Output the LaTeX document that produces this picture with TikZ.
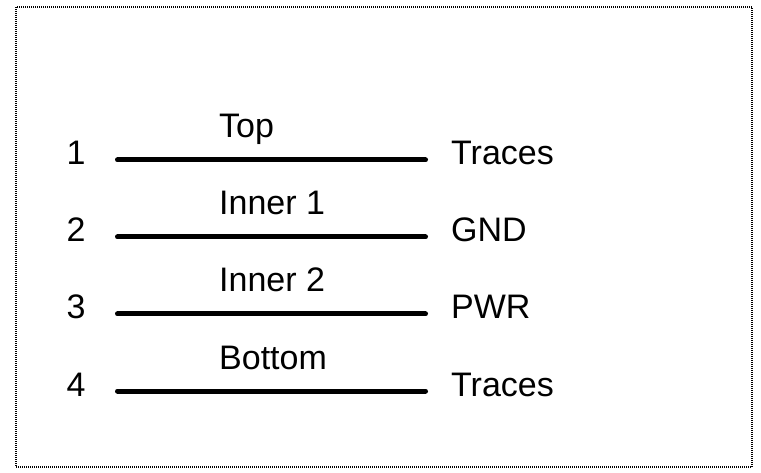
\documentclass[tikz,border=0pt]{standalone}
\usepackage{fontspec}
\setmainfont{Liberation Sans}
\begin{document}
\begin{tikzpicture}[x=1pt,y=-1pt,
  lbl/.style={inner sep=0pt,font=\fontsize{34}{40}\selectfont},
  layer/.style={line width=5pt,line cap=round},
  frame/.style={line width=1.2pt,dash pattern=on 1pt off 1pt}]
\useasboundingbox (0,0) rectangle (761,473);
\draw[frame] (16,7) rectangle (752,467);
% layers
\foreach \i/\y/\nm/\rt in {1/160/Top/Traces,2/237/Inner 1/GND,3/314/Inner 2/PWR,4/391/Bottom/Traces}{
  \coordinate (L\i) at (117.5,\y);
  \coordinate (R\i) at (425.5,\y);
  \draw[layer] (L\i) -- (R\i);
  \node[lbl,anchor=base] (n\i) at (76,\y+5) {\i};
  \node[lbl,anchor=base west] (t\i) at (219,\y-22) {\nm};
  \node[lbl,anchor=base west] (r\i) at (451,\y+5) {\rt};
}
\end{tikzpicture}
\end{document}
